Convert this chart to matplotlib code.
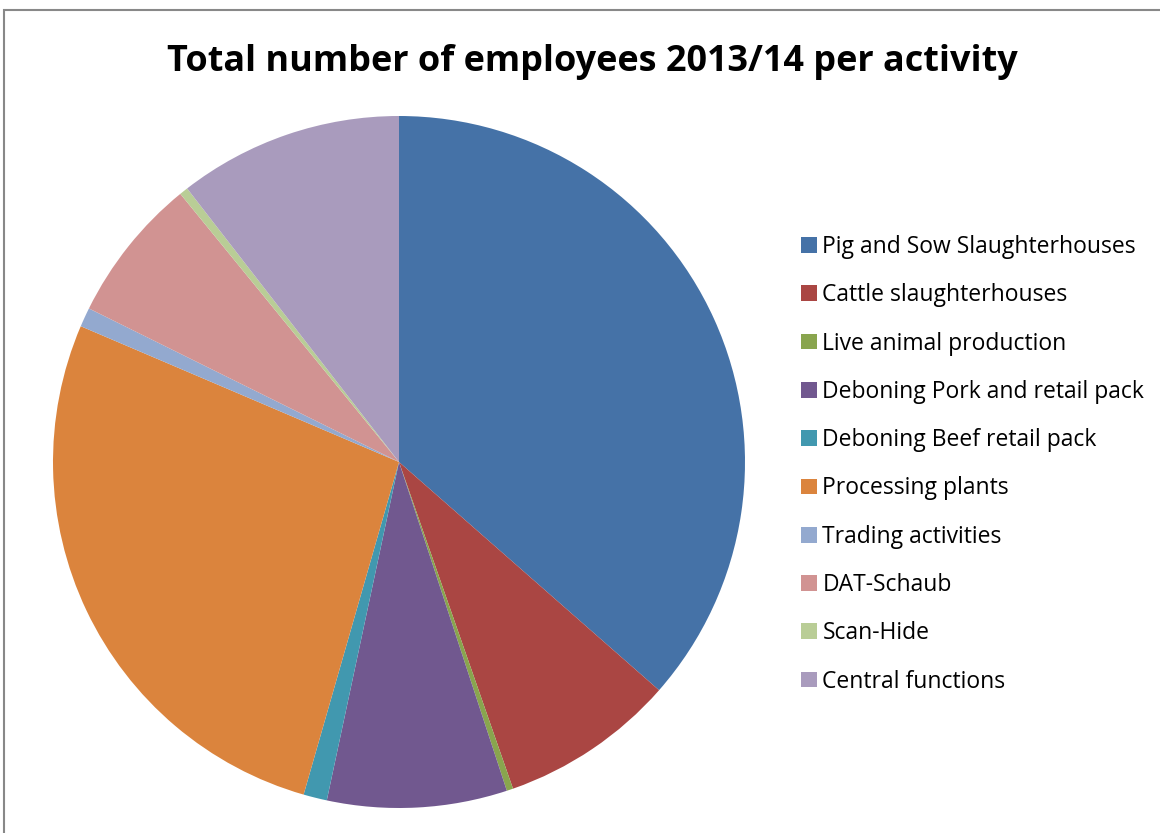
import matplotlib.pyplot as plt
from matplotlib.patches import Rectangle

# Employees per activity, share of total (%)
activities = [
    "Pig and Sow Slaughterhouses",
    "Cattle slaughterhouses",
    "Live animal production",
    "Deboning Pork and retail pack",
    "Deboning Beef retail pack",
    "Processing plants",
    "Trading activities",
    "DAT-Schaub",
    "Scan-Hide",
    "Central functions",
]
shares = [36.5, 8.2, 0.3, 8.4, 1.1, 27.0, 0.9, 6.8, 0.4, 10.5]
colors = ["#4572A7", "#AA4643", "#89A54E", "#71588F", "#4198AF",
          "#DB843D", "#93A9CF", "#D19392", "#B9CD96", "#A99BBD"]

W, H = 1160, 833
fig = plt.figure(figsize=(W / 100, H / 100), dpi=100)

# chart frame
fig.patches.append(Rectangle((4 / W, -0.05), 1.2, 1 - 10 / H + 0.05,
                             transform=fig.transFigure, fill=False,
                             edgecolor="#888888", linewidth=1.5))

cx, cy, r = 399, 462, 346
ax = fig.add_axes([(cx - r) / W, (H - cy - r) / H, 2 * r / W, 2 * r / H])
wedges, _ = ax.pie(shares, colors=colors, startangle=90, counterclock=False,
                   radius=1.0, wedgeprops=dict(linewidth=0))
ax.set_xlim(-1, 1)
ax.set_ylim(-1, 1)
ax.set_aspect("equal")
ax.axis("off")

fig.text(592 / W, 1 - 62 / H, "Total number of employees 2013/14 per activity",
         ha="center", va="center", fontsize=25.9, fontweight="bold",
         family="Open Sans")

fig.legend(wedges, activities, loc="upper left",
           bbox_to_anchor=(801 / W, 1 - 235 / H), frameon=False,
           prop=dict(family="Open Sans", size=16.5),
           handlelength=0.68, handleheight=0.68, handletextpad=0.25,
           labelspacing=1.06, borderpad=0, borderaxespad=0)

fig.savefig("out.png", dpi=100, facecolor="white")
